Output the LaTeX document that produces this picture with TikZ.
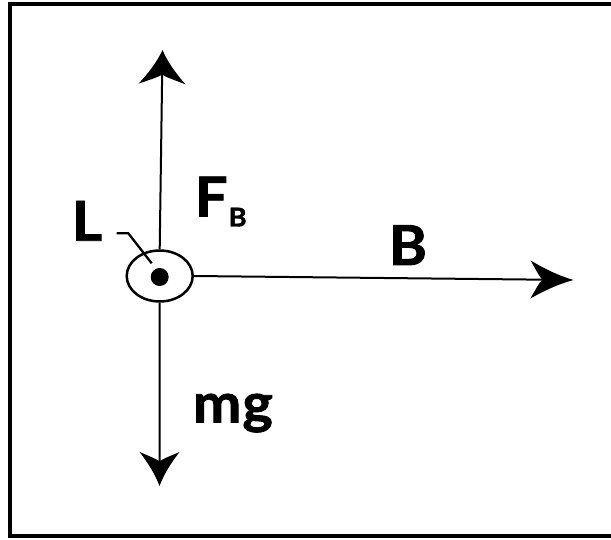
\documentclass[tikz,border=0pt]{standalone}
\usepackage{fontspec}
\setmainfont{Lato}[BoldFeatures={FakeBold=1.5,FakeStretch=1.05}]
\usetikzlibrary{arrows.meta,shapes.geometric}
\pgfdeclarearrow{
  name = CurvedHead,
  parameters = {\the\pgfarrowlength,\the\pgfarrowwidth},
  setup code = {
    \pgfarrowssettipend{0pt}
    \pgfarrowssetlineend{-0.6\pgfarrowlength}
    \pgfarrowsupperhullpoint{-\pgfarrowlength}{0.5\pgfarrowwidth}
    \pgfarrowshullpoint{0pt}{0pt}
    \pgfarrowssavethe\pgfarrowlength
    \pgfarrowssavethe\pgfarrowwidth
  },
  drawing code = {
    \pgfpathmoveto{\pgfqpoint{0pt}{0pt}}
    \pgfpathcurveto{\pgfqpoint{-0.35\pgfarrowlength}{0.11\pgfarrowwidth}}{\pgfqpoint{-0.7\pgfarrowlength}{0.3\pgfarrowwidth}}{\pgfqpoint{-\pgfarrowlength}{0.5\pgfarrowwidth}}
    \pgfpathcurveto{\pgfqpoint{-0.86\pgfarrowlength}{0.22\pgfarrowwidth}}{\pgfqpoint{-0.78\pgfarrowlength}{0.05\pgfarrowwidth}}{\pgfqpoint{-0.72\pgfarrowlength}{0pt}}
    \pgfpathcurveto{\pgfqpoint{-0.78\pgfarrowlength}{-0.05\pgfarrowwidth}}{\pgfqpoint{-0.86\pgfarrowlength}{-0.22\pgfarrowwidth}}{\pgfqpoint{-\pgfarrowlength}{-0.5\pgfarrowwidth}}
    \pgfpathcurveto{\pgfqpoint{-0.7\pgfarrowlength}{-0.3\pgfarrowwidth}}{\pgfqpoint{-0.35\pgfarrowlength}{-0.11\pgfarrowwidth}}{\pgfqpoint{0pt}{0pt}}
    \pgfpathclose
    \pgfusepathqfill
  },
  defaults = {length=33pt, width=46pt}
}
\begin{document}
\begin{tikzpicture}[x=1pt,y=-1pt,
  lbl/.style={inner sep=0pt,outer sep=0pt,anchor=base west,font=\fontsize{55}{60}\selectfont\bfseries},
  shaft/.style={line width=2pt},
  tipup/.style={-{CurvedHead[length=34pt,width=47pt]}},
  tipdown/.style={-{CurvedHead[length=34pt,width=40pt]}},
  tipright/.style={-{CurvedHead[length=43pt,width=38pt]}}]
\useasboundingbox (0,0) rectangle (611,540);
\clip (0,0) rectangle (611,540);
\fill[white] (0,0) rectangle (611,540);
% frame
\draw[line width=4pt] (10,4.5) rectangle (640,536);
% wire
\node[draw,line width=2.5pt,ellipse,minimum width=66pt,minimum height=51pt,inner sep=0pt] (wire) at (159.7,276) {};
\node[fill,circle,minimum size=18pt,inner sep=0pt] (dot) at (159.7,277) {};
% force / field arrows
\coordinate (top) at (162.5,50);
\coordinate (bot) at (159.5,486);
\coordinate (right) at (573.5,280);
\draw[shaft,tipup] (wire.north) -- (top);
\draw[shaft,tipdown] (wire.south) -- (bot);
\draw[shaft,tipright] (wire.east) -- (right);
% labels
\node[lbl] (L) at (72,240.7) {L};
\node[lbl] (FB) at (195,216.5) {F\kern1pt\raisebox{-10pt}{\fontsize{26}{28}\selectfont B}};
\node[lbl] (Bl) at (389,265) {B};
\node[lbl] (mg) at (193,422.5) {m\kern1pt g};
% leader for L
\coordinate (la) at (116.7,233.3);
\coordinate (lb) at (128.3,233.3);
\coordinate (lc) at (151.7,263.3);
\draw[line width=2.3pt] (la) -- (lb) -- (lc);
\end{tikzpicture}
\end{document}
